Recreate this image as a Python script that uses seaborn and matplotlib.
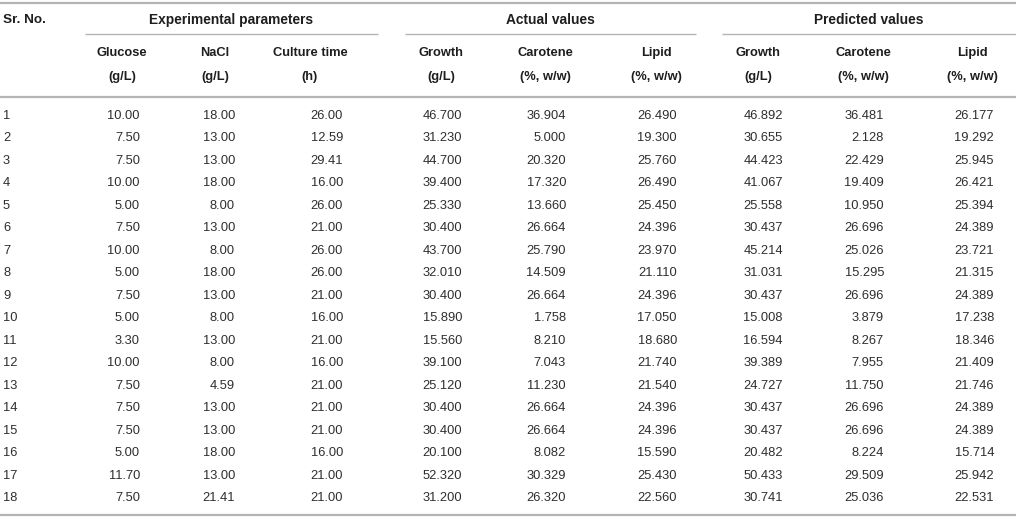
import matplotlib
matplotlib.use("Agg")
import matplotlib.pyplot as plt
import seaborn as sns

# ---------------- data ----------------
sr_no = list(range(1, 19))
glucose = [10.00, 7.50, 7.50, 10.00, 5.00, 7.50, 10.00, 5.00, 7.50, 5.00, 3.30, 10.00, 7.50, 7.50, 7.50, 5.00, 11.70, 7.50]
nacl = [18.00, 13.00, 13.00, 18.00, 8.00, 13.00, 8.00, 18.00, 13.00, 8.00, 13.00, 8.00, 4.59, 13.00, 13.00, 18.00, 13.00, 21.41]
culture_time = [26.00, 12.59, 29.41, 16.00, 26.00, 21.00, 26.00, 26.00, 21.00, 16.00, 21.00, 16.00, 21.00, 21.00, 21.00, 16.00, 21.00, 21.00]
growth_actual = [46.700, 31.230, 44.700, 39.400, 25.330, 30.400, 43.700, 32.010, 30.400, 15.890, 15.560, 39.100, 25.120, 30.400, 30.400, 20.100, 52.320, 31.200]
carotene_actual = [36.904, 5.000, 20.320, 17.320, 13.660, 26.664, 25.790, 14.509, 26.664, 1.758, 8.210, 7.043, 11.230, 26.664, 26.664, 8.082, 30.329, 26.320]
lipid_actual = [26.490, 19.300, 25.760, 26.490, 25.450, 24.396, 23.970, 21.110, 24.396, 17.050, 18.680, 21.740, 21.540, 24.396, 24.396, 15.590, 25.430, 22.560]
growth_pred = [46.892, 30.655, 44.423, 41.067, 25.558, 30.437, 45.214, 31.031, 30.437, 15.008, 16.594, 39.389, 24.727, 30.437, 30.437, 20.482, 50.433, 30.741]
carotene_pred = [36.481, 2.128, 22.429, 19.409, 10.950, 26.696, 25.026, 15.295, 26.696, 3.879, 8.267, 7.955, 11.750, 26.696, 26.696, 8.224, 29.509, 25.036]
lipid_pred = [26.177, 19.292, 25.945, 26.421, 25.394, 24.389, 23.721, 21.315, 24.389, 17.238, 18.346, 21.409, 21.746, 24.389, 24.389, 15.714, 25.942, 22.531]

group_labels = ["Experimental parameters", "Actual values", "Predicted values"]
col_names = ["Glucose", "NaCl", "Culture time", "Growth", "Carotene", "Lipid", "Growth", "Carotene", "Lipid"]
col_units = ["(g/L)", "(g/L)", "(h)", "(g/L)", "(%, w/w)", "(%, w/w)", "(g/L)", "(%, w/w)", "(%, w/w)"]
first_header = "Sr. No."

# ---------------- layout ----------------
W, H = 1016, 521
sns.set_theme(style="white")
plt.rcParams["font.family"] = ["Liberation Sans", "DejaVu Sans"]

fig = plt.figure(figsize=(W / 100, H / 100), dpi=100)
ax = fig.add_axes([0, 0, 1, 1])
ax.set_xlim(0, W)
ax.set_ylim(H, 0)
ax.axis("off")

fs = 9.3
fs_group = 9.9
body_color = "#2e2e2e"
head_color = "#1e1e1e"
line_color = "#b4b4b4"

value_cols = [
    (glucose, 2), (nacl, 2), (culture_time, 2),
    (growth_actual, 3), (carotene_actual, 3), (lipid_actual, 3),
    (growth_pred, 3), (carotene_pred, 3), (lipid_pred, 3),
]
value_right = [140, 235, 343, 462, 566, 677, 783, 884, 994]
header_center = [122, 215, 310, 441, 545, 656, 758, 863, 972]
group_spans = [(85, 378), (405, 696), (722, 1016)]

y_group = 20
y_name = 53
y_unit = 77
y_row0 = 116
row_step = 22.47

# rules
ax.plot([0, W], [3, 3], color=line_color, lw=1.6, solid_capstyle="butt")
ax.plot([0, W], [97, 97], color=line_color, lw=1.6, solid_capstyle="butt")
ax.plot([0, W], [515, 515], color=line_color, lw=1.6, solid_capstyle="butt")
for (x0, x1) in group_spans:
    ax.plot([x0, x1], [34, 34], color=line_color, lw=1.0, solid_capstyle="butt")

# headers
ax.text(3, y_group, first_header, ha="left", va="center", fontsize=9.7,
        fontweight="bold", color=head_color)
for label, (x0, x1) in zip(group_labels, group_spans):
    ax.text((x0 + x1) / 2, y_group, label, ha="center", va="center",
            fontsize=fs_group, fontweight="bold", color=head_color)
for name, unit, xc in zip(col_names, col_units, header_center):
    ax.text(xc, y_name, name, ha="center", va="center", fontsize=fs,
            fontweight="bold", color=head_color)
    ax.text(xc, y_unit, unit, ha="center", va="center", fontsize=fs,
            fontweight="bold", color=head_color)

# body
for i, n in enumerate(sr_no):
    y = y_row0 + i * row_step
    ax.text(3, y, str(n), ha="left", va="center", fontsize=fs, color=body_color)
    for (vals, dec), xr in zip(value_cols, value_right):
        ax.text(xr, y, f"{vals[i]:.{dec}f}", ha="right", va="center",
                fontsize=fs, color=body_color)

fig.savefig("out.png", dpi=100, facecolor="white")
